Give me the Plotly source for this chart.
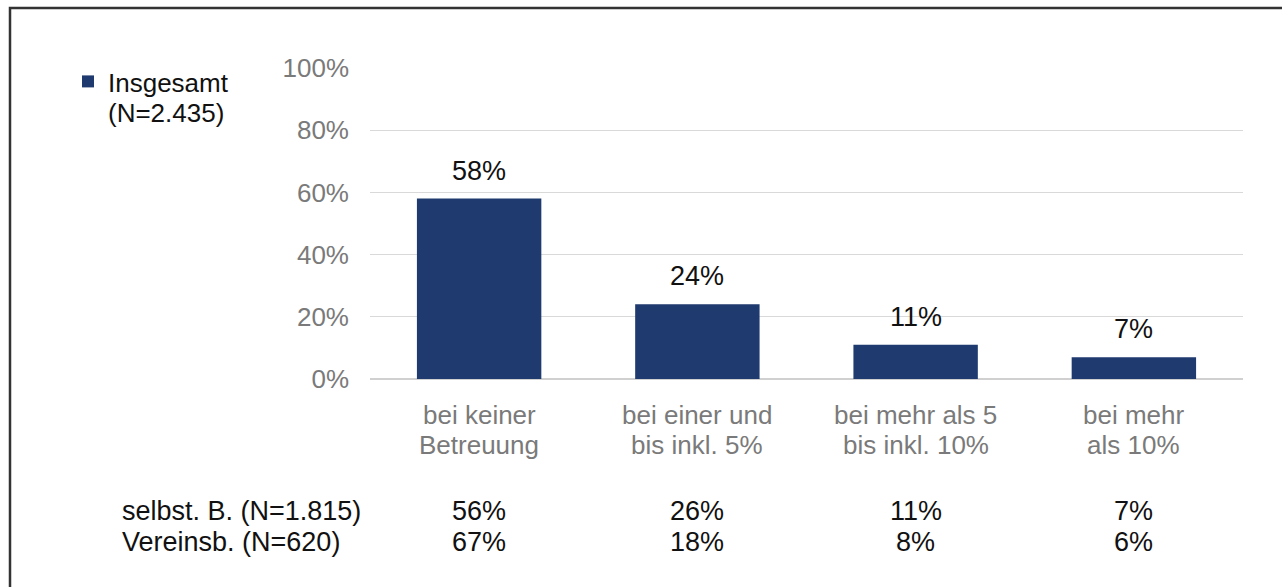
import plotly.graph_objects as go

# Kategorien (Betreuungsanteil), je Kategorie zwei Beschriftungszeilen
categories = [
    "bei keiner Betreuung",
    "bei einer und bis inkl. 5%",
    "bei mehr als 5 bis inkl. 10%",
    "bei mehr als 10%",
]
category_lines = [
    ("bei keiner", "Betreuung"),
    ("bei einer und", "bis inkl. 5%"),
    ("bei mehr als 5", "bis inkl. 10%"),
    ("bei mehr", "als 10%"),
]
insgesamt = [58, 24, 11, 7]
selbst_b = [56, 26, 11, 7]
vereinsb = [67, 18, 8, 6]
row_labels = ["selbst. B. (N=1.815)", "Vereinsb. (N=620)"]
legend_name = "Insgesamt"
legend_sub = "(N=2.435)"
y_ticks = [0, 20, 40, 60, 80, 100]
y_ticktext = [f"{v}%" for v in y_ticks]

W, H = 1282, 587
ML, MR, MT, MB = 370, 39, 68, 208
PW, PH = W - ML - MR, H - MT - MB

FONT = "Arial, Liberation Sans, sans-serif"
BAR = "#1f3a6e"
GRAY = "#7a7a7a"
BLACK = "#111111"
FS = 26


def px_x(p):
    return (p - ML) / PW


def px_y(p):
    return (H - MB - p) / PH


fig = go.Figure()
fig.add_trace(go.Bar(
    x=categories, y=insgesamt, name=legend_name,
    marker=dict(color=BAR, line=dict(width=0)),
    width=0.57,
))

# Wertbeschriftungen über den Balken
for c, v in zip(categories, insgesamt):
    fig.add_annotation(x=c, y=v, text=f"{v}%", showarrow=False,
                       yanchor="bottom", yshift=11,
                       font=dict(family=FONT, size=27, color=BLACK))

# Kategoriebeschriftungen (zweizeilig, enger Zeilenabstand)
cat_line_y = [415, 445]
for c, lines in zip(categories, category_lines):
    for txt, yp in zip(lines, cat_line_y):
        fig.add_annotation(x=c, yref="paper", y=px_y(yp), text=txt,
                           showarrow=False, xanchor="center", yanchor="middle",
                           font=dict(family=FONT, size=FS, color=GRAY))

# Tabellenzeilen unter der Grafik
rows = [selbst_b, vereinsb]
row_y = [511, 542]
for label, vals, yp in zip(row_labels, rows, row_y):
    fig.add_annotation(xref="paper", yref="paper", x=px_x(120), y=px_y(yp),
                       text=label, showarrow=False, xanchor="left", yanchor="middle",
                       font=dict(family=FONT, size=FS + 1, color=BLACK))
    for c, v in zip(categories, vals):
        fig.add_annotation(x=c, yref="paper", y=px_y(yp), text=f"{v}%",
                           showarrow=False, xanchor="center", yanchor="middle",
                           font=dict(family=FONT, size=FS + 1, color=BLACK))

# zweite Zeile des Legendeneintrags
fig.add_annotation(xref="paper", yref="paper", x=px_x(106), y=px_y(113),
                   text=legend_sub, showarrow=False, xanchor="left", yanchor="middle",
                   font=dict(family=FONT, size=FS, color=BLACK))

# Rahmen
fig.add_shape(type="rect", xref="paper", yref="paper",
              x0=px_x(10), x1=px_x(1300), y0=px_y(620), y1=px_y(8),
              line=dict(color="#333333", width=2.5), fillcolor="rgba(0,0,0,0)",
              layer="above")

fig.update_layout(
    width=W, height=H,
    margin=dict(l=ML, r=MR, t=MT, b=MB),
    paper_bgcolor="white", plot_bgcolor="white",
    font=dict(family=FONT, size=FS, color=BLACK),
    showlegend=True,
    legend=dict(x=px_x(68), y=px_y(58), xanchor="left", yanchor="top",
                xref="paper", yref="paper", valign="middle",
                font=dict(family=FONT, size=FS, color=BLACK),
                bgcolor="rgba(0,0,0,0)", itemwidth=30),
    bargap=0.43,
    xaxis=dict(showgrid=False, showline=False, ticks="", showticklabels=False),
    yaxis=dict(range=[0, 100], tickmode="array", tickvals=y_ticks,
               ticktext=y_ticktext,
               showgrid=True, gridcolor="#d9d9d9", gridwidth=1,
               zeroline=True, zerolinecolor="#d0d0d0", zerolinewidth=1.5,
               showline=False, ticks="",
               tickfont=dict(family=FONT, size=26, color=GRAY),
               ticklabelstandoff=20),
)

fig.write_html("out.html")
